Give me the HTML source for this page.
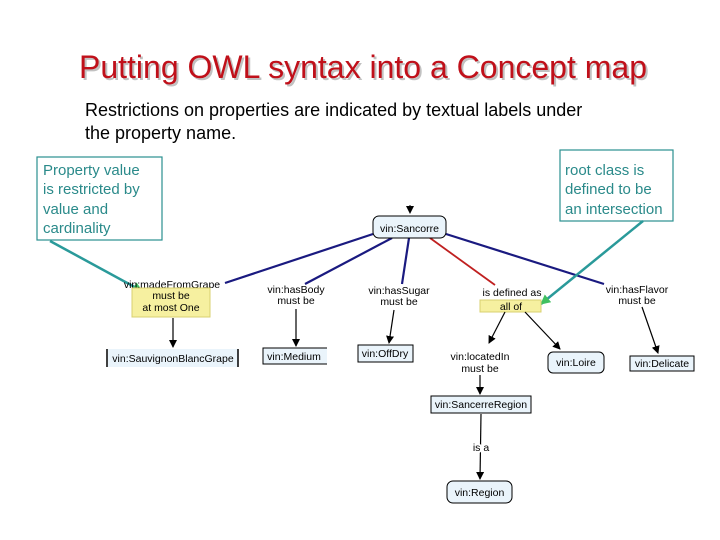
<!DOCTYPE html>
<html><head><meta charset="utf-8"><style>
html,body{margin:0;padding:0;background:#fff;}
svg{display:block;font-family:"Liberation Sans",sans-serif;}
</style></head><body>
<svg width="720" height="540" viewBox="0 0 720 540" xmlns="http://www.w3.org/2000/svg">
<defs>
<marker id="ab" markerWidth="8" markerHeight="8" refX="7" refY="4" orient="auto" markerUnits="userSpaceOnUse"><path d="M0,0 L8,4 L0,8 Z" fill="#000"/></marker>
<marker id="at" markerWidth="10" markerHeight="10" refX="9" refY="5" orient="auto" markerUnits="userSpaceOnUse"><path d="M0,0 L10,5 L0,10 Z" fill="#40c060"/></marker>
</defs>
<text x="363" y="78" font-size="32" fill="#999" text-anchor="middle" opacity="0.6" transform="translate(2,2)">Putting OWL syntax into a Concept map</text>
<text x="363" y="78" font-size="32" fill="#c0101a" text-anchor="middle">Putting OWL syntax into a Concept map</text>
<text x="85" y="116" font-size="18" fill="#000">Restrictions on properties are indicated by textual labels under</text>
<text x="85" y="139" font-size="18" fill="#000">the property name.</text>

<rect x="37" y="157" width="125" height="83" fill="#fff" stroke="#2a9090" stroke-width="1.2"/>
<g font-size="15" fill="#2a8a8a">
<text x="43" y="175">Property value</text><text x="43" y="194">is restricted by</text><text x="43" y="214">value and</text><text x="43" y="233">cardinality</text>
</g>
<rect x="560" y="150" width="113" height="71" fill="#fff" stroke="#2a9090" stroke-width="1.2"/>
<g font-size="15" fill="#2a8a8a">
<text x="565" y="175">root class is</text><text x="565" y="194">defined to be</text><text x="565" y="214">an intersection</text>
</g>

<g stroke="#1a1a80" stroke-width="2.2" fill="none">
<line x1="373" y1="234" x2="225" y2="283"/>
<line x1="392" y1="238" x2="305" y2="284"/>
<line x1="409" y1="238" x2="402" y2="284"/>
<line x1="446" y1="234" x2="604" y2="284"/>
</g>
<line x1="430" y1="238" x2="495" y2="285" stroke="#c02020" stroke-width="1.8"/>
<line x1="410" y1="205" x2="410" y2="213" stroke="#000" stroke-width="1" marker-end="url(#ab)"/>

<line x1="50" y1="241" x2="142" y2="291" stroke="#2a9a9a" stroke-width="2.5" marker-end="url(#at)"/>
<line x1="643" y1="221" x2="541" y2="304" stroke="#2a9a9a" stroke-width="2.5" marker-end="url(#at)"/>

<rect x="373" y="216" width="73" height="22" rx="6" fill="#eaf4fb" stroke="#000"/>
<text x="409.5" y="232" font-size="10.5" text-anchor="middle">vin:Sancorre</text>

<text x="172" y="288" font-size="10.5" text-anchor="middle">vin:madeFromGrape</text>
<rect x="132" y="288" width="78" height="29" fill="#f6f0a0" stroke="#d8d070"/>
<text x="171" y="299" font-size="10.5" text-anchor="middle">must be</text>
<text x="171" y="311" font-size="10.5" text-anchor="middle">at most One</text>

<text x="296" y="293" font-size="10.5" text-anchor="middle">vin:hasBody</text>
<text x="296" y="304" font-size="10.5" text-anchor="middle">must be</text>
<text x="399" y="294" font-size="10.5" text-anchor="middle">vin:hasSugar</text>
<text x="399" y="305" font-size="10.5" text-anchor="middle">must be</text>
<text x="512" y="296" font-size="10.5" text-anchor="middle">is defined as</text>
<rect x="480" y="300" width="61" height="12" fill="#f6f0a0" stroke="#d8d070"/>
<text x="511" y="310" font-size="10.5" text-anchor="middle">all of</text>
<text x="637" y="293" font-size="10.5" text-anchor="middle">vin:hasFlavor</text>
<text x="637" y="304" font-size="10.5" text-anchor="middle">must be</text>

<g stroke="#000" stroke-width="1.2" marker-end="url(#ab)">
<line x1="173" y1="318" x2="173" y2="347"/>
<line x1="296" y1="309" x2="296" y2="346"/>
<line x1="394" y1="310" x2="389" y2="343"/>
<line x1="505" y1="312" x2="489" y2="343"/>
<line x1="525" y1="312" x2="560" y2="349"/>
<line x1="642" y1="307" x2="658" y2="353"/>
<line x1="480" y1="375" x2="480" y2="394"/>
<line x1="481" y1="414" x2="480" y2="479"/>
</g>

<rect x="108" y="349" width="130" height="18" fill="#eaf4fb"/>
<line x1="107" y1="349" x2="107" y2="367" stroke="#000" stroke-width="1.5"/>
<line x1="238" y1="349" x2="238" y2="367" stroke="#000" stroke-width="1.5"/>
<text x="173" y="362" font-size="10.5" text-anchor="middle">vin:SauvignonBlancGrape</text>

<path d="M327,348 H263 V364 H327" fill="#eaf4fb" stroke="#000"/>
<text x="294" y="360" font-size="10.5" text-anchor="middle">vin:Medium</text>
<rect x="358" y="345" width="55" height="17" fill="#eaf4fb" stroke="#000"/>
<text x="385" y="357" font-size="10.5" text-anchor="middle">vin:OffDry</text>
<rect x="548" y="352" width="56" height="21" rx="5" fill="#eaf4fb" stroke="#000"/>
<text x="576" y="366" font-size="10.5" text-anchor="middle">vin:Loire</text>
<rect x="630" y="356" width="64" height="15" fill="#eaf4fb" stroke="#000"/>
<text x="662" y="367" font-size="10.5" text-anchor="middle">vin:Delicate</text>

<text x="480" y="360" font-size="10.5" text-anchor="middle">vin:locatedIn</text>
<text x="480" y="372" font-size="10.5" text-anchor="middle">must be</text>
<rect x="431" y="396" width="100" height="17" fill="#eaf4fb" stroke="#000"/>
<text x="481" y="408" font-size="10.5" text-anchor="middle">vin:SancerreRegion</text>
<text x="481" y="451" font-size="10.5" text-anchor="middle" fill="#000" style="paint-order:stroke" stroke="#fff" stroke-width="4">is a</text>
<rect x="447" y="481" width="65" height="22" rx="6" fill="#eaf4fb" stroke="#000"/>
<text x="479.5" y="496" font-size="10.5" text-anchor="middle">vin:Region</text>
</svg>
</body></html>
